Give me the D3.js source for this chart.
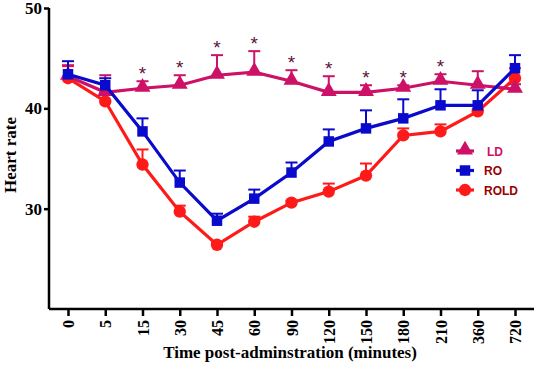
<!DOCTYPE html>
<html lang="en">
<head>
<meta charset="UTF-8" />
<title>Heart rate</title>
<script src="https://cdn.jsdelivr.net/npm/d3@7"></script>
<style>
  body { margin: 0; background: #fff; }
  .axis text { font-family: "Liberation Serif", "Times New Roman", serif; font-weight: bold; font-size: 16px; fill: #000; }
  .axis.yax text { font-size: 17px; }
  .axis path, .axis line { stroke: #000; stroke-width: 2.5px; }
  .title { font-family: "Liberation Serif", "Times New Roman", serif; font-weight: bold; font-size: 17px; }
  .legend text { font-family: "Liberation Sans", Arial, sans-serif; font-weight: bold; font-size: 12px; }
</style>
</head>
<body>
<div id="chart"></div>
<script>
var times = ["0", "5", "15", "30", "45", "60", "90", "120", "150", "180", "210", "360", "720"];

var ldMean = [43.2, 41.6, 42.0, 42.3, 43.3, 43.6, 42.7, 41.6, 41.6, 42.0, 42.7, 42.3, 41.9];
var ldUpper = [44.3, 43.3, 42.7, 43.3, 45.3, 45.7, 43.8, 43.2, 42.3, 42.3, 43.4, 43.7, 42.4];
var roMean = [43.4, 42.3, 37.7, 32.6, 28.8, 31.0, 33.6, 36.7, 38.0, 39.0, 40.3, 40.3, 44.0];
var roUpper = [44.7, 43.0, 39.0, 33.8, 29.5, 31.9, 34.6, 37.9, 39.8, 40.9, 41.9, 41.8, 45.3];
var roldMean = [43.0, 40.7, 34.4, 29.7, 26.4, 28.7, 30.6, 31.7, 33.3, 37.3, 37.7, 39.7, 43.0];
var roldUpper = [44.2, 41.6, 35.9, 30.3, 26.6, 29.2, 30.8, 32.5, 34.5, 38.0, 38.4, 39.9, 44.0];
var starAt = ["15", "30", "45", "60", "90", "120", "150", "180", "210"];

var yTicks = [30, 40, 50];

var w = 536, h = 366;
var svg = d3.select("#chart").append("svg").attr("width", w).attr("height", h);

var x = d3.scalePoint().domain(times).range([49, 534]).padding(0.51);
var y = d3.scaleLinear().domain([20, 50]).range([309, 8]);

var series = [
  { name: "ROLD", mean: roldMean, upper: roldUpper, color: "#ff1a1a", shape: "circle" },
  { name: "LD", mean: ldMean, upper: ldUpper, color: "#cc1166", shape: "triangle" },
  { name: "RO", mean: roMean, upper: roUpper, color: "#0a0acc", shape: "square" }
];

function symbolFor(shape) {
  if (shape === "circle") return d3.symbol().type(d3.symbolCircle).size(120);
  if (shape === "square") return d3.symbol().type(d3.symbolSquare).size(110);
  return d3.symbol().type(d3.symbolTriangle).size(110);
}

var line = d3.line()
  .x(function(d, i) { return x(times[i]); })
  .y(function(d) { return y(d); });

series.forEach(function(s) {
  var g = svg.append("g");
  // error bars, upper half only
  times.forEach(function(t, i) {
    g.append("line")
      .attr("x1", x(t)).attr("x2", x(t))
      .attr("y1", y(s.mean[i])).attr("y2", y(s.upper[i]))
      .attr("stroke", s.color).attr("stroke-width", 2);
    g.append("line")
      .attr("x1", x(t) - 6).attr("x2", x(t) + 6)
      .attr("y1", y(s.upper[i])).attr("y2", y(s.upper[i]))
      .attr("stroke", s.color).attr("stroke-width", 2);
  });
  g.append("path")
    .datum(s.mean)
    .attr("d", line)
    .attr("fill", "none")
    .attr("stroke", s.color)
    .attr("stroke-width", 3.2);
  g.selectAll("path.pt")
    .data(s.mean)
    .enter()
    .append("path")
    .attr("class", "pt")
    .attr("transform", function(d, i) {
      var dy = s.shape === "triangle" ? -1 : 0;
      return "translate(" + x(times[i]) + "," + (y(d) + dy) + ")";
    })
    .attr("d", symbolFor(s.shape))
    .attr("fill", s.color);
});

// asterisks
svg.selectAll("text.star")
  .data(starAt)
  .enter()
  .append("text")
  .attr("class", "star")
  .attr("x", function(d) { return x(d); })
  .attr("y", function(d) { return y(ldUpper[times.indexOf(d)]) - 1; })
  .attr("text-anchor", "middle")
  .attr("font-family", "Liberation Sans, Arial, sans-serif")
  .attr("font-size", "19px")
  .attr("fill", "#5a1040")
  .text("*");

// axes
svg.append("g")
  .attr("class", "axis yax")
  .attr("transform", "translate(49,0)")
  .call(d3.axisLeft(y).tickValues(yTicks).tickSize(5).tickPadding(2).tickSizeOuter(0))
  .call(function(g) { g.select(".domain").attr("d", "M0," + y(50) + "V" + y(20)); });

var xAxis = svg.append("g")
  .attr("class", "axis")
  .attr("transform", "translate(0,309)")
  .call(d3.axisBottom(x).tickSize(7).tickSizeOuter(0));
xAxis.select(".domain").attr("d", "M49,0H534");
xAxis.selectAll("text")
  .attr("transform", "rotate(-90)")
  .attr("text-anchor", "end")
  .attr("x", -11)
  .attr("y", 0)
  .attr("dy", "0.35em");

svg.append("text")
  .attr("class", "title")
  .attr("x", 290)
  .attr("y", 358)
  .attr("text-anchor", "middle")
  .text("Time post-adminstration (minutes)");

svg.append("text")
  .attr("class", "title")
  .attr("transform", "translate(16,155) rotate(-90)")
  .attr("text-anchor", "middle")
  .text("Heart rate");

// legend
var legendItems = [
  { name: "LD", color: "#cc1166", text: "#cc1166", shape: "triangle" },
  { name: "RO", color: "#0a0acc", text: "#990000", shape: "square" },
  { name: "ROLD", color: "#ff1a1a", text: "#990000", shape: "circle" }
];
var legend = svg.append("g").attr("class", "legend");
legendItems.forEach(function(d, i) {
  var ly = 151 + i * 19.5;
  legend.append("line")
    .attr("x1", 456).attr("x2", 474)
    .attr("y1", ly).attr("y2", ly)
    .attr("stroke", d.color).attr("stroke-width", 3.2);
  legend.append("path")
    .attr("transform", "translate(465," + (ly - (d.shape === "triangle" ? 1 : 0)) + ")")
    .attr("d", symbolFor(d.shape))
    .attr("fill", d.color);
  legend.append("text")
    .attr("x", d.shape === "triangle" ? 487 : 484)
    .attr("y", ly + 4.5)
    .attr("fill", d.text)
    .text(d.name);
});
</script>
</body>
</html>
